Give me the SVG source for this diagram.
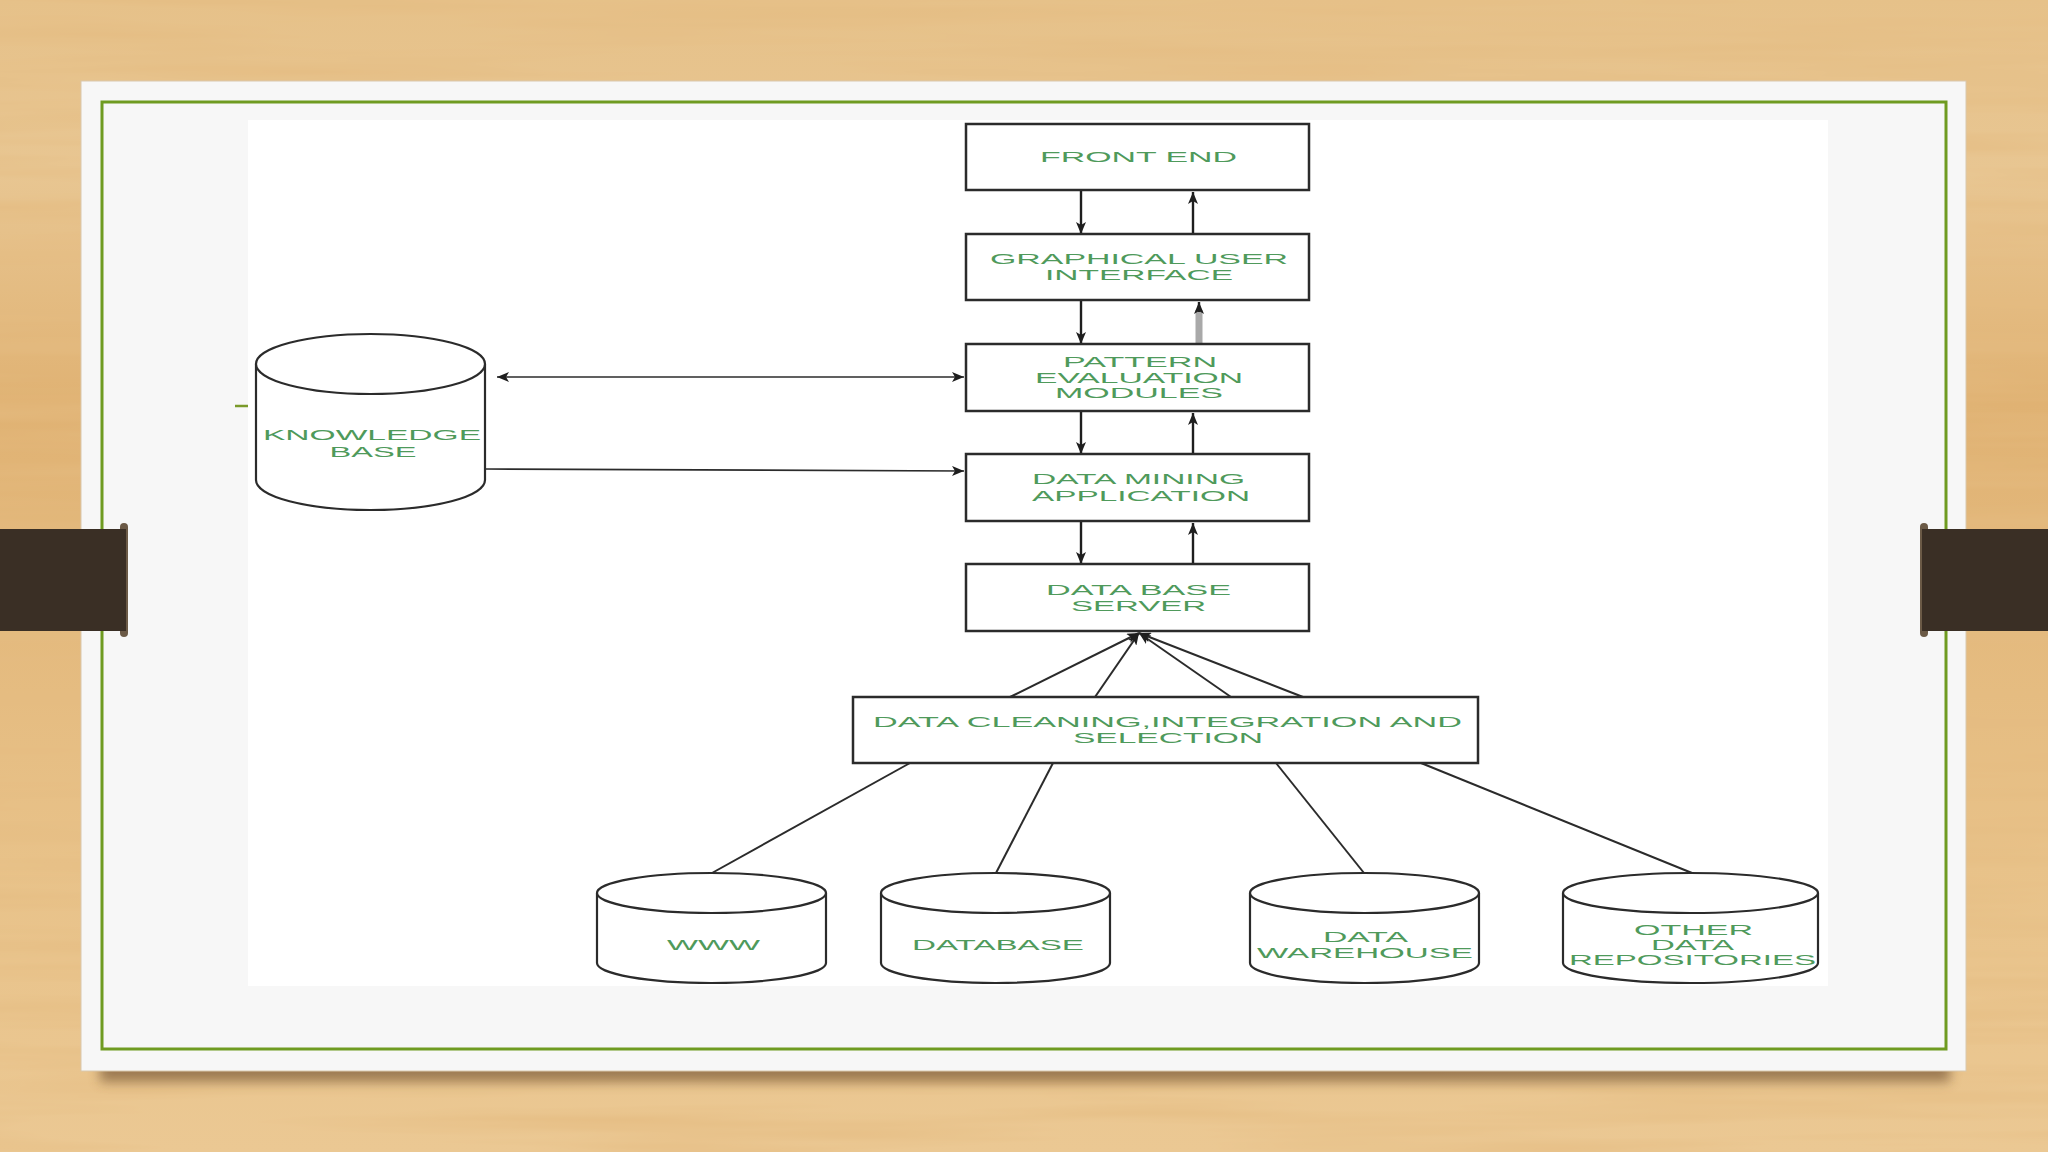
<svg xmlns="http://www.w3.org/2000/svg" width="2048" height="1152" viewBox="0 0 2048 1152">
<defs>
  <linearGradient id="wood" x1="0" y1="0" x2="0" y2="1">
    <stop offset="0" stop-color="#e6c189"/>
    <stop offset="0.15" stop-color="#e8c692"/>
    <stop offset="0.35" stop-color="#e0b273"/>
    <stop offset="0.55" stop-color="#e4ba7e"/>
    <stop offset="0.75" stop-color="#e8c289"/>
    <stop offset="1" stop-color="#ebc893"/>
  </linearGradient>
  <filter id="grain" x="0" y="0" width="100%" height="100%">
    <feTurbulence type="fractalNoise" baseFrequency="0.002 0.045" numOctaves="3" seed="7"/>
    <feColorMatrix type="matrix" values="0 0 0 0 0.78  0 0 0 0 0.50  0 0 0 0 0.22  0 0 0 1.5 -0.6"/>
  </filter>
  <filter id="shadow" x="-5%" y="-100%" width="110%" height="300%">
    <feGaussianBlur stdDeviation="6"/>
  </filter>
  <marker id="ah" viewBox="0 0 12 10" refX="12" refY="5" markerWidth="12" markerHeight="10" markerUnits="userSpaceOnUse" orient="auto-start-reverse">
    <path d="M0,0 L12,5 L0,10 L3,5 Z" fill="#1e1e1e"/>
  </marker>
  <style>
    .box { fill: #ffffff; stroke: #2b2b2b; stroke-width: 2.5; }
    .cyl { fill: #ffffff; stroke: #2b2b2b; stroke-width: 2.2; }
    .lbl { font-family: "Liberation Sans", Arial, sans-serif; font-size: 14px; fill: #4f9a5b; text-anchor: middle; }
    .arr { stroke: #1e1e1e; stroke-width: 2.4; fill: none; }
    .thin { stroke: #2b2b2b; stroke-width: 1.6; fill: none; }
    .ln { stroke: #2b2b2b; stroke-width: 2; fill: none; }
    .band { fill: #3a2f25; }
    .knob { fill: #6b5a46; }
  </style>
</defs>

<!-- background -->
<rect x="0" y="0" width="2048" height="1152" fill="url(#wood)"/>
<rect x="0" y="0" width="2048" height="1152" filter="url(#grain)"/>

<!-- card -->
<rect x="100" y="1058" width="1850" height="24" fill="#5e4124" opacity="0.55" filter="url(#shadow)"/>
<rect x="81" y="81" width="1885" height="990" fill="#f7f7f7" stroke="#d9c8ad" stroke-width="1"/>
<rect x="102" y="102" width="1844" height="947" fill="none" stroke="#6f9b21" stroke-width="3"/>
<rect x="248" y="120" width="1580" height="866" fill="#ffffff"/>
<line x1="235" y1="406" x2="248" y2="406" stroke="#7a9a2a" stroke-width="2.5"/>

<!-- side bands -->
<rect class="knob" x="120" y="523" width="8" height="114" rx="4"/>
<rect class="band" x="0" y="529" width="126" height="102"/>
<rect class="knob" x="1920" y="523" width="8" height="114" rx="4"/>
<rect class="band" x="1922" y="529" width="126" height="102"/>

<!-- connectors -->
<g id="connectors">
  <line class="arr" x1="1081" y1="191" x2="1081" y2="234" marker-end="url(#ah)"/>
  <line class="arr" x1="1193" y1="234" x2="1193" y2="192" marker-end="url(#ah)"/>
  <line class="arr" x1="1081" y1="301" x2="1081" y2="344" marker-end="url(#ah)"/>
  <line x1="1199" y1="344" x2="1199" y2="310" stroke="#a9a9a9" stroke-width="7"/>
  <line class="arr" x1="1199" y1="312" x2="1199" y2="302" marker-end="url(#ah)"/>
  <line class="arr" x1="1081" y1="411" x2="1081" y2="454" marker-end="url(#ah)"/>
  <line class="arr" x1="1193" y1="454" x2="1193" y2="413" marker-end="url(#ah)"/>
  <line class="arr" x1="1081" y1="521" x2="1081" y2="564" marker-end="url(#ah)"/>
  <line class="arr" x1="1193" y1="564" x2="1193" y2="523" marker-end="url(#ah)"/>
  <line class="thin" x1="497" y1="377" x2="964" y2="377" marker-start="url(#ah)" marker-end="url(#ah)"/>
  <line class="thin" x1="485" y1="469" x2="964" y2="471" marker-end="url(#ah)"/>
  <line class="ln" x1="1010" y1="697" x2="1139" y2="633" marker-end="url(#ah)"/>
  <line class="ln" x1="1095" y1="697" x2="1139" y2="633" marker-end="url(#ah)"/>
  <line class="ln" x1="1231" y1="697" x2="1139" y2="633" marker-end="url(#ah)"/>
  <line class="ln" x1="1303" y1="697" x2="1139" y2="633" marker-end="url(#ah)"/>
  <line class="ln" x1="910" y1="763" x2="712" y2="873"/>
  <line class="ln" x1="1053" y1="763" x2="996" y2="873"/>
  <line class="ln" x1="1276" y1="763" x2="1364" y2="873"/>
  <line class="ln" x1="1421" y1="763" x2="1692" y2="873"/>
</g>

<!-- boxes -->
<g id="front-end">
  <rect class="box" x="966" y="124" width="343" height="66"/>
  <text class="lbl" x="1138.5" y="162" textLength="197" lengthAdjust="spacingAndGlyphs">FRONT END</text>
</g>
<g id="gui">
  <rect class="box" x="966" y="234" width="343" height="66"/>
  <text class="lbl" x="1139" y="264" textLength="298" lengthAdjust="spacingAndGlyphs">GRAPHICAL USER</text>
  <text class="lbl" x="1139" y="280" textLength="188" lengthAdjust="spacingAndGlyphs">INTERFACE</text>
</g>
<g id="pattern-evaluation">
  <rect class="box" x="966" y="344" width="343" height="67"/>
  <text class="lbl" x="1140" y="367" textLength="154" lengthAdjust="spacingAndGlyphs">PATTERN</text>
  <text class="lbl" x="1139" y="383" textLength="208" lengthAdjust="spacingAndGlyphs">EVALUATION</text>
  <text class="lbl" x="1139" y="398" textLength="168" lengthAdjust="spacingAndGlyphs">MODULES</text>
</g>
<g id="data-mining">
  <rect class="box" x="966" y="454" width="343" height="67"/>
  <text class="lbl" x="1138.5" y="484" textLength="213" lengthAdjust="spacingAndGlyphs">DATA MINING</text>
  <text class="lbl" x="1141" y="501" textLength="218" lengthAdjust="spacingAndGlyphs">APPLICATION</text>
</g>
<g id="database-server">
  <rect class="box" x="966" y="564" width="343" height="67"/>
  <text class="lbl" x="1138.5" y="595" textLength="185" lengthAdjust="spacingAndGlyphs">DATA BASE</text>
  <text class="lbl" x="1138.5" y="611" textLength="135" lengthAdjust="spacingAndGlyphs">SERVER</text>
</g>
<g id="data-cleaning">
  <rect class="box" x="853" y="697" width="625" height="66"/>
  <text class="lbl" x="1167.5" y="727" textLength="589" lengthAdjust="spacingAndGlyphs">DATA CLEANING,INTEGRATION AND</text>
  <text class="lbl" x="1168" y="743" textLength="190" lengthAdjust="spacingAndGlyphs">SELECTION</text>
</g>

<!-- cylinders -->
<g id="knowledge-base">
  <path class="cyl" d="M256,364 L256,480 A114.5,30 0 0 0 485,480 L485,364 A114.5,30 0 0 0 256,364 Z"/>
  <path class="cyl" fill="none" d="M256,364 A114.5,30 0 0 0 485,364"/>
  <text class="lbl" x="372" y="440" textLength="218" lengthAdjust="spacingAndGlyphs">KNOWLEDGE</text>
  <text class="lbl" x="373" y="457" textLength="87" lengthAdjust="spacingAndGlyphs">BASE</text>
</g>
<g id="www">
  <path class="cyl" d="M597,893 L597,963 A114.5,20 0 0 0 826,963 L826,893 A114.5,20 0 0 0 597,893 Z"/>
  <path class="cyl" fill="none" d="M597,893 A114.5,20 0 0 0 826,893"/>
  <text class="lbl" x="713.5" y="950" textLength="93" lengthAdjust="spacingAndGlyphs">WWW</text>
</g>
<g id="database">
  <path class="cyl" d="M881,893 L881,963 A114.5,20 0 0 0 1110,963 L1110,893 A114.5,20 0 0 0 881,893 Z"/>
  <path class="cyl" fill="none" d="M881,893 A114.5,20 0 0 0 1110,893"/>
  <text class="lbl" x="998" y="950" textLength="172" lengthAdjust="spacingAndGlyphs">DATABASE</text>
</g>
<g id="data-warehouse">
  <path class="cyl" d="M1250,893 L1250,963 A114.5,20 0 0 0 1479,963 L1479,893 A114.5,20 0 0 0 1250,893 Z"/>
  <path class="cyl" fill="none" d="M1250,893 A114.5,20 0 0 0 1479,893"/>
  <text class="lbl" x="1365.5" y="942" textLength="85" lengthAdjust="spacingAndGlyphs">DATA</text>
  <text class="lbl" x="1365" y="958" textLength="216" lengthAdjust="spacingAndGlyphs">WAREHOUSE</text>
</g>
<g id="other-data-repositories">
  <path class="cyl" d="M1563,893 L1563,963 A127.5,20 0 0 0 1818,963 L1818,893 A127.5,20 0 0 0 1563,893 Z"/>
  <path class="cyl" fill="none" d="M1563,893 A127.5,20 0 0 0 1818,893"/>
  <text class="lbl" x="1693.5" y="935" textLength="119" lengthAdjust="spacingAndGlyphs">OTHER</text>
  <text class="lbl" x="1692.5" y="950" textLength="83" lengthAdjust="spacingAndGlyphs">DATA</text>
  <text class="lbl" x="1692.5" y="965" textLength="247" lengthAdjust="spacingAndGlyphs">REPOSITORIES</text>
</g>
</svg>
